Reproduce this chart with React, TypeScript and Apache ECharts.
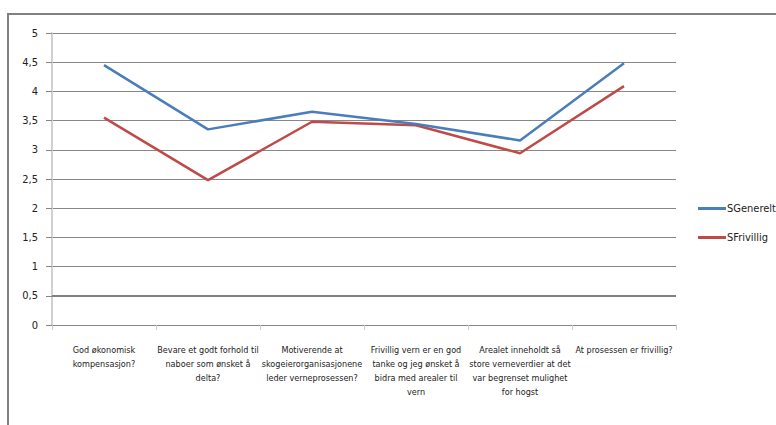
import React, { useEffect, useRef } from "react";
import * as echarts from "echarts";

const categories = [
  "God økonomisk\nkompensasjon?",
  "Bevare et godt forhold til\nnaboer som ønsket å\ndelta?",
  "Motiverende at\nskogeierorganisasjonene\nleder verneprosessen?",
  "Frivillig vern er en god\ntanke og jeg ønsket å\nbidra med arealer til\nvern",
  "Arealet inneholdt så\nstore verneverdier at det\nvar begrenset mulighet\nfor hogst",
  "At prosessen er frivillig?",
];
const sGenerelt = [4.45, 3.35, 3.65, 3.44, 3.16, 4.48];
const sFrivillig = [3.55, 2.48, 3.48, 3.42, 2.94, 4.09];
const seriesNames = ["SGenerelt", "SFrivillig"];

const FONT = "'Liberation Sans Narrow', 'DejaVu Sans Condensed', 'Liberation Sans', sans-serif";

export default function App() {
  const ref = useRef<HTMLDivElement>(null);
  useEffect(() => {
    if (!ref.current) return;
    const chart = echarts.init(ref.current, undefined, { renderer: "svg" });
    chart.setOption({
      animation: false,
      backgroundColor: "#ffffff",
      textStyle: { fontFamily: FONT },
      graphic: [
        {
          type: "polyline",
          shape: { points: [[8, 440], [8, 14], [790, 14]] },
          style: { stroke: "#808080", lineWidth: 2, fill: "none" },
          silent: true,
        },
      ],
      legend: {
        orient: "vertical",
        left: 693,
        top: 198,
        itemWidth: 28,
        itemHeight: 3,
        itemGap: 18,
        icon: "rect",
        textStyle: { fontFamily: FONT, fontSize: 11, color: "#222", padding: [0, 0, 0, -4] },
        data: seriesNames,
      },
      grid: { left: 52, right: 100, top: 33, bottom: 100 },
      xAxis: {
        type: "category",
        data: categories,
        boundaryGap: true,
        axisLine: { lineStyle: { color: "#878787", width: 1 } },
        axisTick: { show: true, length: 5, lineStyle: { color: "#c8c8c8" } },
        axisLabel: {
          interval: 0,
          margin: 18,
          fontFamily: FONT,
          fontSize: 9,
          lineHeight: 14,
          color: "#222",
        },
        splitLine: { show: false },
      },
      yAxis: {
        type: "value",
        min: 0,
        max: 5,
        interval: 0.5,
        axisLine: { show: true, lineStyle: { color: "#d0d0d0", width: 2 } },
        axisTick: { show: true, length: 6, lineStyle: { color: "#878787" } },
        axisLabel: {
          margin: 14,
          fontFamily: FONT,
          fontSize: 11,
          color: "#222",
          formatter: (v: number) => String(v).replace(".", ","),
        },
        splitLine: { show: true, lineStyle: { color: "#878787", width: 1 } },
      },
      series: [
        {
          name: seriesNames[0],
          type: "line",
          data: sGenerelt,
          symbol: "none",
          lineStyle: { color: "#4a7ebb", width: 2.5 },
          itemStyle: { color: "#4a7ebb" },
          z: 3,
          markLine: {
            silent: true,
            symbol: "none",
            label: { show: false },
            lineStyle: { color: "#808080", width: 2, type: "solid" },
            data: [{ yAxis: 0.5 }],
            z: 1,
          },
        },
        {
          name: seriesNames[1],
          type: "line",
          data: sFrivillig,
          symbol: "none",
          lineStyle: { color: "#be4b48", width: 2.5 },
          itemStyle: { color: "#be4b48" },
          z: 2,
        },
      ],
    });
    return () => chart.dispose();
  }, []);
  return <div ref={ref} style={{ width: 776, height: 425, position: "absolute", left: 0, top: 0 }} />;
}
